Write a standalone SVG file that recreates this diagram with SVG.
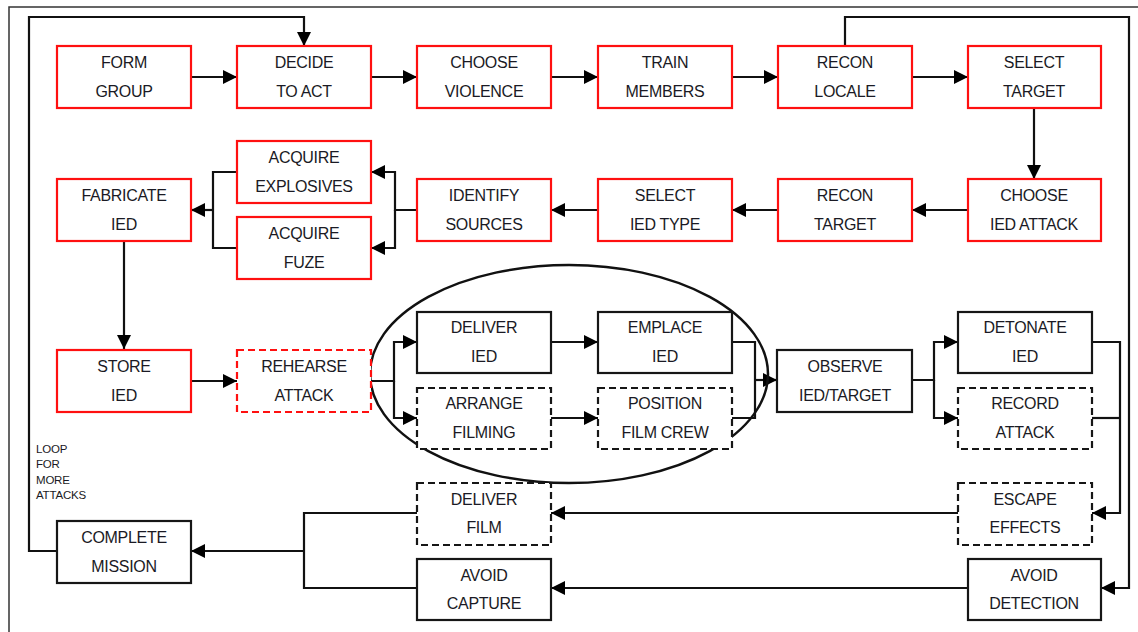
<svg xmlns="http://www.w3.org/2000/svg" width="1138" height="632" viewBox="0 0 1138 632">
<style>
  .bx{fill:#fff;stroke-width:2.2}
  .red{stroke:#ff1010}
  .blk{stroke:#161616}
  .dash{stroke-dasharray:7 4}
  .t{font-family:"Liberation Sans",Arial,sans-serif;font-size:16px;fill:#1a1a24;text-anchor:middle;letter-spacing:-0.3px}
  .s{font-family:"Liberation Sans",Arial,sans-serif;font-size:11.5px;fill:#1a1a24;letter-spacing:-0.2px}
  .c{fill:none;stroke:#111;stroke-width:2.2}
  .a{marker-end:url(#ah)}
</style>
<defs>
  <marker id="ah" markerUnits="userSpaceOnUse" viewBox="0 0 14 14" refX="14" refY="7" markerWidth="14" markerHeight="14" orient="auto">
    <path d="M0,0 L14,7 L0,14 z" fill="#000"/>
  </marker>
</defs>
<rect width="1138" height="632" fill="#fff"/>
<path d="M9,632 V7 H1138" fill="none" stroke="#333" stroke-width="1.5"/>

<g id="connectors">
  <path class="c a" d="M191,77 H237"/>
  <path class="c a" d="M371,77 H417"/>
  <path class="c a" d="M551,77 H598"/>
  <path class="c a" d="M732,77 H778"/>
  <path class="c a" d="M912,77 H968"/>
  <path class="c a" d="M1034,108 V179"/>
  <path class="c a" d="M968,210 H912"/>
  <path class="c a" d="M778,210 H732"/>
  <path class="c a" d="M598,210 H551"/>
  <path class="c a" d="M417,210 H395 V172 H371"/>
  <path class="c a" d="M395,210 V248 H371"/>
  <path class="c" d="M237,172 H213 V248 H237"/>
  <path class="c a" d="M213,210 H191"/>
  <path class="c a" d="M124,241 V349"/>
  <path class="c a" d="M191,381 H237"/>
  <path class="c a" d="M371,381 H394 V342 H417"/>
  <path class="c a" d="M394,381 V418 H417"/>
  <path class="c a" d="M551,342 H598"/>
  <path class="c a" d="M551,418 H598"/>
  <path class="c" d="M732,342 H755 V418 H732"/>
  <path class="c a" d="M755,380 H777"/>
  <path class="c a" d="M912,380 H934 V342 H958"/>
  <path class="c a" d="M934,380 V418 H958"/>
  <path class="c a" d="M1092,342 H1120 V513 H1092"/>
  <path class="c" d="M1092,418 H1120"/>
  <path class="c a" d="M845,46 V17 H1129 V588 H1101"/>
  <path class="c a" d="M958,513 H551"/>
  <path class="c a" d="M968,588 H551"/>
  <path class="c" d="M417,513 H304 V588 H417"/>
  <path class="c a" d="M304,551 H191"/>
  <path class="c a" d="M57,551 H29 V17 H304 V46"/>
</g>

<ellipse id="phase" cx="569" cy="374" rx="199" ry="109" fill="none" stroke="#111" stroke-width="2.5"/>

<g id="form-group"><rect class="bx red" x="57" y="46" width="134" height="62"/><text class="t" x="124" y="68">FORM</text><text class="t" x="124" y="97">GROUP</text></g>
<g id="decide-to-act"><rect class="bx red" x="237" y="46" width="134" height="62"/><text class="t" x="304" y="68">DECIDE</text><text class="t" x="304" y="97">TO ACT</text></g>
<g id="choose-violence"><rect class="bx red" x="417" y="46" width="134" height="62"/><text class="t" x="484" y="68">CHOOSE</text><text class="t" x="484" y="97">VIOLENCE</text></g>
<g id="train-members"><rect class="bx red" x="598" y="46" width="134" height="62"/><text class="t" x="665" y="68">TRAIN</text><text class="t" x="665" y="97">MEMBERS</text></g>
<g id="recon-locale"><rect class="bx red" x="778" y="46" width="134" height="62"/><text class="t" x="845" y="68">RECON</text><text class="t" x="845" y="97">LOCALE</text></g>
<g id="select-target"><rect class="bx red" x="968" y="46" width="133" height="62"/><text class="t" x="1034" y="68">SELECT</text><text class="t" x="1034" y="97">TARGET</text></g>

<g id="fabricate-ied"><rect class="bx red" x="57" y="179" width="134" height="62"/><text class="t" x="124" y="201">FABRICATE</text><text class="t" x="124" y="230">IED</text></g>
<g id="acquire-explosives"><rect class="bx red" x="237" y="141" width="134" height="62"/><text class="t" x="304" y="163">ACQUIRE</text><text class="t" x="304" y="192">EXPLOSIVES</text></g>
<g id="acquire-fuze"><rect class="bx red" x="237" y="217" width="134" height="62"/><text class="t" x="304" y="239">ACQUIRE</text><text class="t" x="304" y="268">FUZE</text></g>
<g id="identify-sources"><rect class="bx red" x="417" y="179" width="134" height="62"/><text class="t" x="484" y="201">IDENTIFY</text><text class="t" x="484" y="230">SOURCES</text></g>
<g id="select-ied-type"><rect class="bx red" x="598" y="179" width="134" height="62"/><text class="t" x="665" y="201">SELECT</text><text class="t" x="665" y="230">IED TYPE</text></g>
<g id="recon-target"><rect class="bx red" x="778" y="179" width="134" height="62"/><text class="t" x="845" y="201">RECON</text><text class="t" x="845" y="230">TARGET</text></g>
<g id="choose-ied-attack"><rect class="bx red" x="968" y="179" width="133" height="62"/><text class="t" x="1034" y="201">CHOOSE</text><text class="t" x="1034" y="230">IED ATTACK</text></g>

<g id="store-ied"><rect class="bx red" x="57" y="350" width="134" height="62"/><text class="t" x="124" y="372">STORE</text><text class="t" x="124" y="401">IED</text></g>
<g id="rehearse-attack"><rect class="bx red dash" x="237" y="350" width="134" height="62"/><text class="t" x="304" y="372">REHEARSE</text><text class="t" x="304" y="401">ATTACK</text></g>
<g id="deliver-ied"><rect class="bx blk" x="417" y="312" width="134" height="61"/><text class="t" x="484" y="333">DELIVER</text><text class="t" x="484" y="362">IED</text></g>
<g id="emplace-ied"><rect class="bx blk" x="598" y="312" width="134" height="61"/><text class="t" x="665" y="333">EMPLACE</text><text class="t" x="665" y="362">IED</text></g>
<g id="arrange-filming"><rect class="bx blk dash" x="417" y="388" width="134" height="61"/><text class="t" x="484" y="409">ARRANGE</text><text class="t" x="484" y="438">FILMING</text></g>
<g id="position-film-crew"><rect class="bx blk dash" x="598" y="388" width="134" height="61"/><text class="t" x="665" y="409">POSITION</text><text class="t" x="665" y="438">FILM CREW</text></g>
<g id="observe"><rect class="bx blk" x="777" y="350" width="135" height="62"/><text class="t" x="845" y="372">OBSERVE</text><text class="t" x="845" y="401">IED/TARGET</text></g>
<g id="detonate-ied"><rect class="bx blk" x="958" y="312" width="134" height="61"/><text class="t" x="1025" y="333">DETONATE</text><text class="t" x="1025" y="362">IED</text></g>
<g id="record-attack"><rect class="bx blk dash" x="958" y="388" width="134" height="61"/><text class="t" x="1025" y="409">RECORD</text><text class="t" x="1025" y="438">ATTACK</text></g>

<g id="escape-effects"><rect class="bx blk dash" x="958" y="483" width="134" height="62"/><text class="t" x="1025" y="505">ESCAPE</text><text class="t" x="1025" y="533">EFFECTS</text></g>
<g id="avoid-detection"><rect class="bx blk" x="968" y="559" width="133" height="61"/><text class="t" x="1034" y="581">AVOID</text><text class="t" x="1034" y="609">DETECTION</text></g>
<g id="deliver-film"><rect class="bx blk dash" x="417" y="483" width="134" height="62"/><text class="t" x="484" y="505">DELIVER</text><text class="t" x="484" y="533">FILM</text></g>
<g id="avoid-capture"><rect class="bx blk" x="417" y="559" width="134" height="61"/><text class="t" x="484" y="581">AVOID</text><text class="t" x="484" y="609">CAPTURE</text></g>
<g id="complete-mission"><rect class="bx blk" x="57" y="521" width="134" height="62"/><text class="t" x="124" y="543">COMPLETE</text><text class="t" x="124" y="572">MISSION</text></g>

<g id="loop-label">
  <text class="s" x="36" y="453">LOOP</text>
  <text class="s" x="36" y="468">FOR</text>
  <text class="s" x="36" y="484">MORE</text>
  <text class="s" x="36" y="499">ATTACKS</text>
</g>
</svg>
